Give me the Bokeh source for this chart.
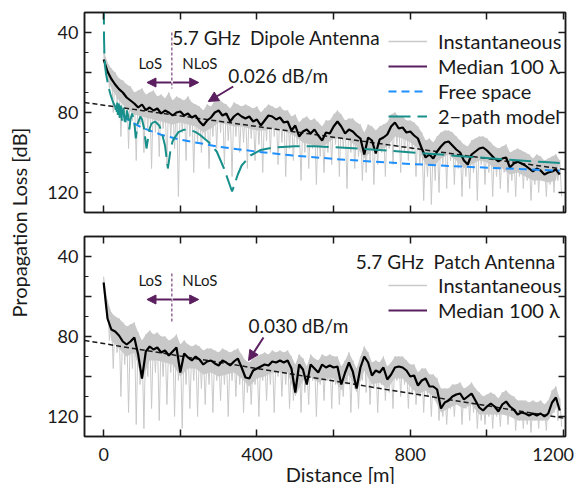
from math import pi
from bokeh.plotting import figure
from bokeh.models import (Range1d, FixedTicker, LinearAxis, Label, Arrow, NormalHead,
                          Legend, LegendItem, CustomJSTickFormatter)
from bokeh.layouts import row, column
from bokeh.embed import file_html
from bokeh.resources import INLINE
from bokeh.core.properties import value

FONT = "Lato"
INK = "#1a1a1a"
GRAY = "#c9c9c9"
PURPLE = "#5b1f5f"
BLUE = "#1e8fff"
TEAL = "#178f8a"
NAN = float("nan")

# ---------------- data ----------------
dist = list(range(0, 1200, 10))          # median / upper-envelope samples [m]
dist_mid = [d + 5 for d in dist]          # spike samples [m]
core_d = list(range(0, 1200, 20))         # lower edge of dense instantaneous band [m]

dipole_median = [53.5, 59.5, 63.2, 66, 68.3, 70, 72.5, 74, 75.5, 77.5,
                 76, 78.8, 77.5, 79, 78, 80.5, 79, 80, 81.5, 80,
                 79.5, 81.5, 80.5, 82.5, 81.5, 84.5, 86.5, 84, 82.5, 80,
                 79, 81.5, 80.5, 84.5, 82, 80.5, 82, 83, 82, 84.5,
                 83.5, 86.5, 84, 81.5, 82, 83.5, 82.5, 85, 84.5, 89,
                 86.5, 92, 89.5, 88.5, 90.5, 88.5, 91.5, 94, 90, 90.5,
                 87, 84.5, 87, 90.5, 88.5, 89.5, 91.5, 93, 101, 92.5,
                 94, 100.5, 93.5, 92.5, 91, 87, 85, 88, 87.5, 90,
                 89.5, 91.5, 93, 98, 102.5, 101, 103, 99.5, 97, 95,
                 94.5, 96.5, 98.5, 100, 104, 106, 101, 99.5, 98, 97.5,
                 99, 101, 103, 104.5, 103, 102.5, 107.5, 105.5, 104.5, 105.5,
                 106.5, 108, 109.5, 108, 109, 111, 110, 109.5, 108.5, 111]
dipole_inst_hi = [49, 55, 58, 60, 63, 64, 66, 67, 70, 69,
                  68, 71, 70, 69, 72, 71, 73, 70, 74, 72,
                  73, 74, 72, 75, 76, 77, 79, 76, 77, 74,
                  73, 75, 76, 78, 75, 76, 77, 76, 77, 78,
                  77, 80, 78, 76, 77, 78, 77, 79, 79, 82,
                  81, 85, 83, 82, 84, 83, 85, 87, 84, 84,
                  81, 79, 81, 84, 83, 83, 85, 86, 90, 86,
                  87, 89, 87, 86, 85, 81, 80, 82, 82, 84,
                  84, 85, 87, 90, 94, 93, 95, 92, 90, 89,
                  89, 90, 92, 94, 96, 97, 94, 93, 92, 92,
                  93, 95, 97, 98, 97, 96, 100, 99, 98, 99,
                  100, 101, 103, 101, 102, 104, 103, 102, 101, 104]
dipole_inst_lo = [60, 68, 80, 75, 92, 80, 98, 84, 104, 86,
                  100, 88, 108, 90, 102, 88, 106, 92, 98, 122,
                  90, 104, 92, 110, 95, 100, 93, 108, 92, 98,
                  90, 106, 94, 112, 92, 100, 95, 108, 93, 104,
                  96, 110, 94, 100, 92, 106, 95, 112, 98, 104,
                  96, 114, 100, 108, 98, 116, 102, 110, 100, 106,
                  96, 112, 98, 118, 100, 108, 102, 114, 110, 104,
                  116, 106, 100, 112, 98, 106, 96, 110, 100, 104,
                  99, 112, 106, 124, 112, 126, 114, 120, 106, 118,
                  104, 116, 108, 122, 112, 118, 110, 124, 106, 116,
                  110, 122, 112, 118, 110, 120, 114, 122, 112, 118,
                  114, 124, 116, 120, 114, 122, 116, 120, 114, 122]
dipole_inst_core = [57, 68, 74, 78, 81, 82, 83, 84, 85, 86,
                    85, 86, 87, 90, 88, 85, 86, 87, 87, 88,
                    89, 89, 88, 88, 90, 92, 95, 96, 97, 96,
                    93, 93, 94, 97, 103, 99, 99, 97, 92, 93,
                    95, 98, 106, 107, 103, 101, 104, 108, 106, 104,
                    105, 108, 108, 111, 110, 112, 114, 114, 115, 114]

patch_median = [53, 71, 76.5, 77.5, 79.5, 82.5, 84, 82.5, 80.5, 89,
                101, 87.5, 85, 86.5, 85.5, 88, 87, 89.5, 87.5, 85.5,
                98, 88.5, 90.5, 92, 90, 91.5, 94, 92.5, 92, 93.5,
                94.5, 92, 93, 94.5, 92.5, 91, 95.5, 100.5, 101, 97,
                96, 95, 94, 94.5, 92.5, 93, 92, 93, 92, 96,
                108, 94, 96.5, 104, 94, 96, 98, 94, 95.5, 94.5,
                95.5, 95, 104, 98, 93, 97.5, 106, 95.5, 90, 93,
                99.5, 97, 98, 95.5, 101.5, 99, 95.5, 95, 95.5, 97,
                100, 99.5, 104.5, 102, 101, 105, 105, 106.5, 116, 113,
                112, 110, 109, 108.5, 111.5, 110, 108.5, 112, 115.5, 117,
                115, 113.5, 115, 117.5, 114, 112.5, 115, 116.5, 119, 118,
                118.5, 119.5, 118.5, 119.5, 118.5, 120, 118.5, 113, 110.5, 117]
patch_inst_hi = [50, 62, 68, 70, 71, 73, 75, 74, 73, 78,
                 82, 79, 77, 79, 78, 80, 80, 82, 81, 79,
                 84, 82, 84, 85, 84, 85, 87, 86, 86, 87,
                 88, 86, 87, 88, 87, 86, 89, 92, 93, 91,
                 90, 89, 88, 89, 87, 88, 87, 88, 87, 90,
                 94, 89, 91, 95, 89, 91, 92, 89, 90, 89,
                 90, 90, 95, 92, 88, 92, 96, 90, 85, 88,
                 93, 92, 93, 90, 95, 93, 90, 90, 90, 92,
                 94, 94, 98, 96, 96, 99, 99, 101, 106, 106,
                 106, 104, 104, 103, 106, 105, 103, 106, 108, 110,
                 109, 108, 109, 111, 108, 107, 109, 110, 112, 112,
                 112, 113, 112, 113, 112, 114, 112, 107, 105, 111]
patch_inst_lo = [66, 82, 96, 88, 110, 94, 118, 96, 124, 104,
                 126, 100, 116, 98, 122, 100, 114, 98, 120, 102,
                 126, 104, 116, 102, 120, 106, 114, 104, 118, 102,
                 112, 104, 120, 102, 110, 104, 118, 108, 114, 104,
                 120, 102, 112, 104, 118, 100, 110, 104, 116, 112,
                 104, 118, 108, 114, 102, 120, 104, 112, 102, 116,
                 104, 114, 110, 104, 118, 106, 116, 102, 108, 114,
                 106, 118, 104, 112, 108, 116, 102, 110, 104, 116,
                 108, 114, 110, 118, 110, 120, 112, 122, 120, 124,
                 116, 120, 114, 124, 116, 122, 118, 126, 122, 124,
                 120, 126, 120, 125, 118, 124, 120, 127, 122, 126,
                 124, 128, 122, 126, 122, 127, 120, 118, 122, 125]
patch_inst_core = [58, 82, 86, 90, 88, 102, 92, 92, 93, 94,
                   100, 96, 96, 99, 98, 100, 99, 98, 101, 105,
                   101, 100, 98, 98, 98, 110, 102, 100, 103, 101,
                   101, 107, 99, 108, 97, 104, 103, 106, 101, 101,
                   105, 109, 107, 110, 118, 116, 114, 116, 114, 119,
                   119, 119, 119, 120, 122, 122, 122, 122, 122, 116]

freespace_d = [50, 75, 100, 150, 200, 300, 400, 500, 600, 700, 800, 900, 1000, 1100, 1190]
freespace_db = [81.6, 85.1, 87.6, 91.1, 93.6, 97.1, 99.6, 101.6, 103.2, 104.5, 105.7,
                106.7, 107.6, 108.4, 109.1]

twopath_d = [0.3, 1, 2, 4, 6, 9, 13, 17, 22, 26,
             30, 33.5, 35.3, 37.2, 39.4, 41.9, 44.7, 47.9, 51.5, 55.8,
             60.9, 64, 67, 70, 74.4, 80, 83.8, 88, 95.7, 100,
             105, 111.7, 120, 125, 134, 145, 150, 160, 167.5, 175,
             180, 195, 210, 223, 240, 250, 275, 295, 314, 335,
             350, 360, 383, 410, 440, 500, 550, 600, 670, 750,
             850, 950, 1050, 1150, 1190]
twopath_db = [25, 43, 51, 57, 60.5, 63.5, 67.5, 70.5, 73.5, 75.5,
              77, 81, 75, 82, 75.5, 83, 76.5, 84.5, 77.5, 86.5,
              79, 82, 88.5, 83.5, 80.5, 85, 93, 86, 82, 83.5,
              87.5, 98, 88, 85.5, 84.5, 86.5, 88.8, 96.5, 108, 98,
              94.2, 89.8, 88.6, 88.6, 89.8, 91, 95, 99.5, 108, 119.5,
              111, 106.5, 101.5, 98.7, 97.6, 96.9, 96.9, 97.3, 98.1, 99.2,
              100.6, 102.1, 103.5, 104.8, 105.3]

fit_d = [-50, 1205]
fit_dipole = [75.0, 108.5]
fit_patch = [82.0, 121.0]

x_ticks = [0, 200, 400, 600, 800, 1000, 1200]
y_ticks = [40, 60, 80, 100, 120]
y_minor = [50, 70, 90, 110]


def zigzag(hi, lo):
    xs, ys = [], []
    for d, dm, h, l in zip(dist, dist_mid, hi, lo):
        xs += [d, dm]
        ys += [h, l]
    return xs, ys


def band(hi, core):
    return dist + core_d[::-1], hi + core[::-1]


def make_panel(top_border, bottom_border, x_labels):
    p = figure(frame_width=481, frame_height=200,
               x_range=Range1d(-50, 1205), y_range=Range1d(130, 30),
               x_axis_location=None, y_axis_location=None,
               toolbar_location=None, output_backend="svg",
               min_border_left=48, min_border_right=19,
               min_border_top=top_border, min_border_bottom=bottom_border,
               background_fill_color="white", border_fill_color="white")
    p.outline_line_color = INK
    p.outline_line_width = 1.5
    p.grid.visible = False
    for side in ("left", "right", "above", "below"):
        if side in ("left", "right"):
            ticker = FixedTicker(ticks=y_ticks, minor_ticks=y_minor if side == "left" else [])
        else:
            ticker = FixedTicker(ticks=x_ticks, minor_ticks=[])
        ax = LinearAxis(ticker=ticker)
        ax.axis_line_color = INK
        ax.axis_line_width = 1.5
        ax.major_tick_line_color = INK
        ax.major_tick_line_width = 1.5
        ax.minor_tick_line_color = INK
        ax.minor_tick_line_width = 1.2
        ax.major_tick_out = 0
        ax.minor_tick_out = 0
        ax.major_tick_in = 7
        ax.minor_tick_in = 4
        labelled = side == "left" or (side == "below" and x_labels)
        if labelled:
            if side == "left":
                ax.formatter = CustomJSTickFormatter(
                    code="return (tick % 40 == 0) ? tick.toFixed(0) : '';")
                ax.major_label_standoff = 6
            else:
                ax.formatter = CustomJSTickFormatter(
                    code="if (tick % 400 != 0) return ''; return (tick == 1200) ? '1200\u2007' : tick.toFixed(0);")
                ax.major_label_standoff = 6
                ax.axis_label = "\u00a0" * 6 + "Distance [m]"
                ax.axis_label_text_font = FONT
                ax.axis_label_text_font_size = "20px"
                ax.axis_label_text_font_style = "normal"
                ax.axis_label_text_color = INK
                ax.axis_label_standoff = -6
            ax.major_label_text_font = FONT
            ax.major_label_text_font_size = "18px"
            ax.major_label_text_color = INK
        else:
            ax.formatter = CustomJSTickFormatter(code="return '';")
            ax.major_label_text_font_size = "0px"
            ax.major_label_standoff = 0
        p.add_layout(ax, side)
    return p


def los_marks(p, y_text, y_arrow, y0, y1):
    p.segment(x0=[178], y0=[y0], x1=[178], y1=[y1], line_color=PURPLE,
              line_width=1, line_dash="3 2")
    for txt, xc in (("LoS", 121.5), ("NLoS", 251)):
        p.add_layout(Label(x=xc, y=y_text, text=txt, text_font=FONT, text_font_size="15px",
                           text_color=INK, text_align="center", text_baseline="middle"))
    for xs, xe in ((176, 113), (181, 248)):
        p.add_layout(Arrow(end=NormalHead(size=9, fill_color=PURPLE, line_color=PURPLE, line_width=1),
                           x_start=xs, y_start=y_arrow, x_end=xe, y_end=y_arrow,
                           line_color=PURPLE, line_width=2))


def legend(p, items, loc):
    lg = Legend(items=items, location=loc, orientation="vertical",
                background_fill_alpha=0, border_line_color=None,
                padding=0, margin=0, spacing=1,
                glyph_width=39, glyph_height=24, label_height=24, label_standoff=11,
                label_text_font=FONT, label_text_font_size="20px", label_text_color=INK)
    p.add_layout(lg)


# ---------------- top panel: dipole ----------------
p1 = make_panel(12, 12, False)
bx, by = band(dipole_inst_hi, dipole_inst_core)
p1.patch(bx, by, fill_color=GRAY, line_color=None)
xs, ys = zigzag(dipole_inst_hi, dipole_inst_lo)
p1.line(xs, ys, line_color=GRAY, line_width=1)
p1.line(fit_d, fit_dipole, line_color=INK, line_width=1.5, line_dash="5 3")
p1.line(dist, dipole_median, line_color="black", line_width=2.2)
r_fs = p1.line(freespace_d, freespace_db, line_color=BLUE, line_width=2, line_dash="8 5")
r_tp = p1.line(twopath_d, twopath_db, line_color=TEAL, line_width=2, line_dash="22 7")
r_inst1 = p1.line([NAN], [NAN], line_color=GRAY, line_width=1.5)
r_med1 = p1.line([NAN], [NAN], line_color=PURPLE, line_width=2)
legend(p1, [LegendItem(label="Instantaneous", renderers=[r_inst1]),
            LegendItem(label="Median 100 λ", renderers=[r_med1]),
            LegendItem(label="Free space", renderers=[r_fs]),
            LegendItem(label="2−path model", renderers=[r_tp])], (304, 84))
p1.add_layout(Label(x=179, y=42.5, text="5.7 GHz\u2002Dipole Antenna", text_font=FONT,
                    text_font_size="19px", text_color=INK, text_baseline="middle", text_align="left"))
los_marks(p1, 55.2, 65, 40, 68)
p1.add_layout(Label(x=325, y=61.5, text="0.026 dB/m", text_font=FONT, text_font_size="19px",
                    text_color=INK, text_baseline="middle", text_align="left"))
p1.add_layout(Arrow(end=NormalHead(size=10, fill_color=PURPLE, line_color=PURPLE, line_width=1),
                    x_start=338, y_start=67, x_end=273, y_end=74.5, line_color=PURPLE, line_width=2))

# ---------------- bottom panel: patch ----------------
p2 = make_panel(12, 48, True)
bx, by = band(patch_inst_hi, patch_inst_core)
p2.patch(bx, by, fill_color=GRAY, line_color=None)
xs, ys = zigzag(patch_inst_hi, patch_inst_lo)
p2.line(xs, ys, line_color=GRAY, line_width=1)
p2.line(fit_d, fit_patch, line_color=INK, line_width=1.5, line_dash="5 3")
p2.line(dist, patch_median, line_color="black", line_width=2.2)
r_inst2 = p2.line([NAN], [NAN], line_color=GRAY, line_width=1.5)
r_med2 = p2.line([NAN], [NAN], line_color=PURPLE, line_width=2)
legend(p2, [LegendItem(label="Instantaneous", renderers=[r_inst2]),
            LegendItem(label="Median 100 λ", renderers=[r_med2])], (304, 114))
p2.add_layout(Label(x=1180, y=42.5, text="5.7 GHz\u2002Patch Antenna", text_font=FONT,
                    text_font_size="19px", text_color=INK, text_baseline="middle", text_align="right"))
los_marks(p2, 51.5, 61.5, 48.5, 73.5)
p2.add_layout(Label(x=377.6, y=74.5, text="0.030 dB/m", text_font=FONT, text_font_size="19px",
                    text_color=INK, text_baseline="middle", text_align="left"))
p2.add_layout(Arrow(end=NormalHead(size=10, fill_color=PURPLE, line_color=PURPLE, line_width=1),
                    x_start=417, y_start=80.5, x_end=378, y_end=92, line_color=PURPLE, line_width=2))

# ---------------- shared y label ----------------
py = figure(width=36, height=484, x_range=Range1d(0, 36), y_range=Range1d(0, 484),
            x_axis_location=None, y_axis_location=None, toolbar_location=None,
            output_backend="svg", min_border=0, outline_line_color=None)
py.grid.visible = False
py.text(x=[18], y=[262], text=["Propagation Loss [dB]"], angle=pi / 2,
        text_align="center", text_baseline="middle", text_font=value(FONT),
        text_font_size="20px", text_color=INK)

layout = row(py, column(p1, p2))
open("out.html", "w").write(file_html(layout, INLINE))
